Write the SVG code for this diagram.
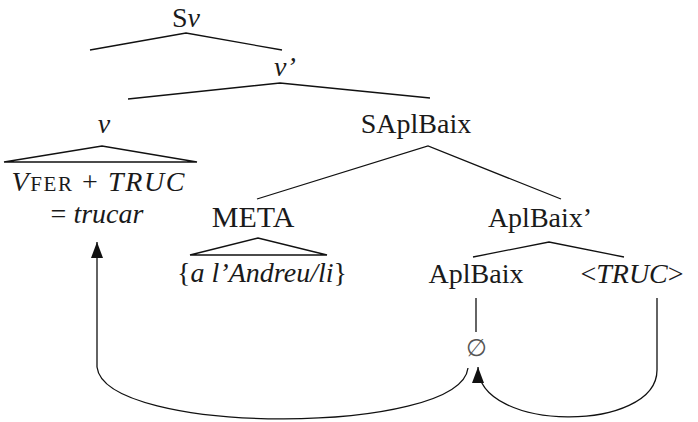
<svg xmlns="http://www.w3.org/2000/svg" width="698" height="422" viewBox="0 0 698 422">
<style>
text{font-family:"Liberation Serif","Times New Roman",serif;font-size:28px;fill:#1a1a1a;text-anchor:middle}
.i{font-style:italic}
.sc{font-size:21px}
.e{font-family:"DejaVu Serif",serif;font-size:24px;fill:#555}
.ln{stroke:#111;stroke-width:1.3;fill:none}
</style>
<defs>
<marker id="ah" markerUnits="userSpaceOnUse" markerWidth="18" markerHeight="14" refX="16" refY="6" orient="auto">
<path d="M0,0 L16,6 L0,12 Z" fill="#111"/>
</marker>
</defs>
<rect width="698" height="422" fill="#fff"/>
<g id="tree-lines" class="ln">
<polyline points="90,50 186,33 282,50"/>
<polyline points="128,99 280,83 430,98"/>
<polygon points="4,162 102,146 197,162"/>
<polyline points="257,199 428,146 561,199"/>
<polygon points="190,255 258,238 327,255"/>
<polyline points="473,257 549,242 624,257"/>
<line x1="476" y1="298" x2="476" y2="332"/>
</g>
<g id="Sv"><text x="186" y="27">S<tspan class="i">v</tspan></text></g>
<g id="vbar"><text x="285" y="76" class="i">v’</text></g>
<g id="v"><text x="104" y="133" class="i">v</text></g>
<g id="SAplBaix"><text x="416" y="133">SAplBaix</text></g>
<g id="vfer"><text x="98" y="191" textLength="173" lengthAdjust="spacing"><tspan class="i">V</tspan><tspan class="sc">FER</tspan> + <tspan class="i">TRUC</tspan></text>
<text x="97" y="223">= <tspan class="i">trucar</tspan></text></g>
<g id="META"><text x="253" y="227" style="font-size:30px">META</text></g>
<g id="andreu"><text x="262" y="282" textLength="170" lengthAdjust="spacing">{<tspan class="i">a l’Andreu/li</tspan>}</text></g>
<g id="AplBaixbar"><text x="540" y="227">AplBaix’</text></g>
<g id="AplBaix"><text x="476" y="283">AplBaix</text></g>
<g id="TRUC"><text x="632" y="283">&lt;<tspan class="i">TRUC</tspan>&gt;</text></g>
<g id="empty"><text class="e" x="476" y="356">∅</text></g>
<g id="connectors" class="ln">
<path d="M468,368 C460,436 105,436 97,367 L97,242" marker-end="url(#ah)"/>
<path d="M657,298 L657,370 C657,433 478,433 478,367" marker-end="url(#ah)"/>
</g>
</svg>
